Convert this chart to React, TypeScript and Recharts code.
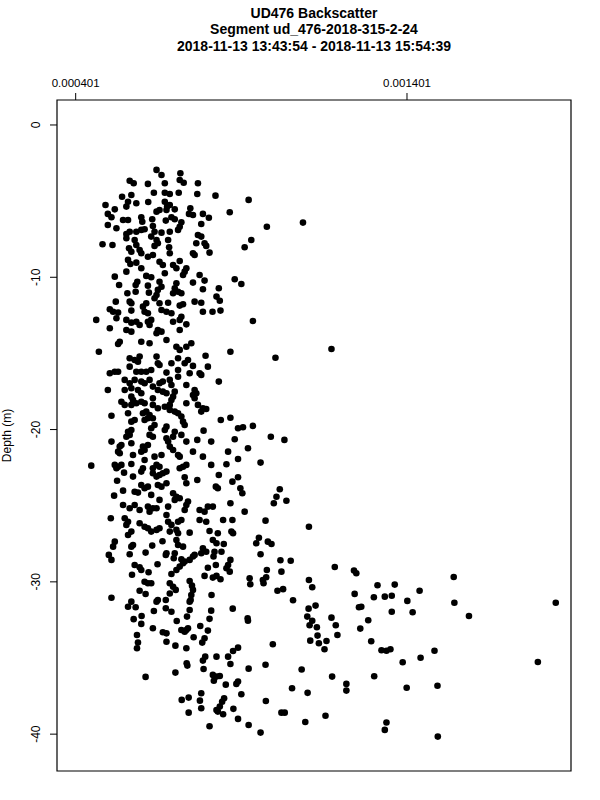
import React from 'react';
import { ScatterChart, Scatter, XAxis, YAxis, ReferenceArea } from 'recharts';

// backscatter in units of 1e-6, depth in metres
const xTicks = [401, 1401];
const yTicks = [0, -10, -20, -30, -40];
const xDomain: [number, number] = [344.6, 1896];
const yDomain: [number, number] = [-42.42, 1.64];

const titleLines = [
  'UD476 Backscatter',
  'Segment ud_476-2018-315-2-24',
  '2018-11-13 13:43:54 - 2018-11-13 15:54:39',
];

const upperBand: [number, number][] = [
  [645,-2.95],[660,-3.28],[717,-3.17],[715,-3.61],[727,-3.79],[564,-3.66],[576,-3.83],[619,-3.87],[670,-3.83],[770,-3.83],
  [637,-4.45],[670,-4.45],[685,-4.53],[712,-4.45],[768,-4.53],[823,-4.64],[923,-4.92],[541,-4.71],[569,-4.60],[559,-5.04],
  [554,-5.36],[584,-5.14],[620,-5.06],[491,-5.25],[519,-5.54],[670,-5.04],[677,-5.36],[685,-5.25],[645,-5.69],[654,-5.58],
  [675,-5.58],[700,-5.54],[747,-5.47],[743,-5.84],[755,-5.91],[785,-5.84],[803,-6.09],[866,-5.73],[498,-5.84],[509,-6.06],
  [544,-6.24],[559,-6.24],[599,-6.06],[602,-6.35],[632,-6.19],[673,-6.28],[690,-6.06],[700,-6.19],[720,-6.39],[715,-6.68],
  [780,-6.50],[1087,-6.41],[978,-6.68],[498,-6.57],[524,-6.78],[554,-7.16],[564,-7.01],[584,-7.01],[599,-6.89],[609,-6.85],
  [634,-6.63],[639,-7.01],[629,-7.33],[660,-7.07],[685,-7.01],[710,-6.89],[770,-7.22],[780,-7.33],[931,-7.55],[911,-8.03],
  [482,-7.83],[512,-7.88],[554,-7.44],[579,-7.55],[584,-7.88],[594,-8.21],[645,-7.55],[639,-7.94],[649,-7.77],[680,-7.55],
  [683,-8.03],[685,-8.42],[765,-7.77],[790,-7.77],[795,-7.94],[562,-8.10],[569,-8.32],[599,-8.42],[755,-8.42],[760,-8.54],
  [805,-8.38],[619,-8.65],[634,-8.54],[654,-8.98],[664,-9.19],[559,-8.86],[566,-9.13],[584,-9.04],[599,-9.41],[715,-8.93],
  [695,-9.19],[705,-9.41],[730,-9.63],[725,-9.85],[735,-9.41],[554,-9.63],[614,-9.91],[629,-10.00],[670,-9.74],[775,-9.85],
  [790,-10.22],[881,-10.13],[901,-10.44],[519,-9.96],[532,-10.51],[587,-10.29],[582,-10.51],[619,-10.55],[654,-10.29],[660,-10.62],
  [649,-10.83],[645,-11.16],[639,-11.38],[705,-10.39],[700,-10.72],[710,-10.95],[695,-11.05],[720,-11.05],[755,-10.35],[785,-10.79],
  [833,-10.72],[557,-11.05],[582,-10.95],[622,-11.01],[826,-11.27],[836,-11.54],[522,-11.60],[564,-11.60],[569,-11.71],[614,-11.71],
  [604,-11.93],[609,-12.26],[654,-11.71],[680,-11.67],[715,-11.86],[725,-11.77],[760,-11.60],[780,-11.67],[504,-12.10],[514,-12.26],
  [529,-12.32],[569,-12.19],[619,-12.36],[660,-12.15],[675,-12.26],[690,-12.36],[720,-12.59],[715,-12.80],[785,-12.26],[814,-12.26],
  [838,-12.19],[463,-12.80],[504,-13.35],[524,-12.69],[554,-12.80],[569,-12.98],[584,-12.92],[594,-13.13],[554,-13.46],[569,-13.57],
  [619,-12.92],[629,-12.80],[624,-13.13],[649,-13.46],[660,-13.57],[645,-13.68],[695,-12.92],[735,-13.09],[715,-13.46],[936,-12.87],
  [1173,-14.71],
];

const middleBand: [number, number][] = [
  [529,-14.38],[534,-14.23],[471,-14.89],[599,-14.23],[624,-14.33],[675,-14.12],[705,-14.56],[715,-14.77],[735,-14.56],[750,-14.33],
  [868,-14.89],[1004,-15.28],[793,-15.15],[564,-15.32],[579,-15.43],[594,-15.21],[589,-15.54],[645,-15.21],[649,-15.65],[654,-15.76],
  [690,-15.65],[710,-15.32],[730,-15.65],[740,-15.43],[755,-15.82],[800,-15.87],[564,-15.87],[504,-16.30],[519,-16.20],[529,-16.20],
  [584,-16.20],[599,-16.20],[614,-16.20],[629,-16.09],[675,-16.26],[710,-16.53],[710,-16.09],[745,-16.30],[775,-16.30],[780,-16.41],
  [549,-16.74],[564,-16.96],[579,-16.74],[599,-16.85],[609,-16.96],[624,-16.74],[654,-16.96],[664,-16.85],[685,-16.74],[690,-17.07],
  [833,-16.85],[735,-17.07],[498,-17.40],[549,-17.40],[569,-17.29],[589,-17.40],[599,-17.62],[634,-17.18],[649,-17.40],[664,-17.51],
  [675,-17.62],[700,-17.51],[695,-17.84],[690,-18.06],[760,-17.40],[755,-17.73],[765,-17.62],[760,-17.94],[569,-17.84],[574,-18.06],
  [634,-17.94],[539,-18.17],[549,-18.38],[569,-18.38],[584,-18.27],[599,-18.17],[609,-18.27],[634,-18.38],[649,-18.60],[670,-18.50],
  [685,-18.38],[735,-18.27],[770,-18.38],[785,-18.60],[780,-18.82],[795,-18.65],[509,-19.09],[559,-18.93],[604,-18.93],[614,-18.82],
  [624,-19.04],[634,-19.26],[609,-19.37],[619,-19.26],[685,-18.71],[700,-18.82],[710,-18.93],[720,-19.15],[725,-19.48],[730,-19.70],
  [839,-19.37],[868,-19.22],[569,-19.48],[579,-19.37],[639,-19.70],[629,-19.91],[634,-20.47],[624,-20.35],[675,-19.81],[670,-20.03],
  [700,-20.14],[695,-20.47],[720,-20.35],[891,-19.91],[906,-19.85],[936,-19.76],[787,-20.07],[559,-20.14],[569,-20.03],[554,-20.47],
  [564,-20.35],[990,-20.47],[1031,-20.68],[509,-20.79],[534,-21.12],[539,-21.01],[569,-20.90],[604,-21.12],[619,-21.01],[609,-21.34],
  [599,-21.45],[675,-20.57],[680,-20.79],[685,-21.12],[695,-21.34],[710,-21.67],[715,-21.78],[735,-20.79],[768,-20.68],[810,-20.79],
  [881,-20.64],[921,-21.23],[529,-21.45],[534,-21.56],[574,-21.67],[639,-21.78],[660,-21.67],[755,-21.45],[785,-21.78],[861,-21.45],
  [891,-21.93],[959,-22.17],[448,-22.37],[519,-22.32],[529,-22.44],[539,-22.32],[524,-22.54],[569,-22.26],[609,-22.00],[604,-22.54],
  [645,-22.32],[634,-22.54],[654,-22.44],[715,-22.54],[725,-22.44],[735,-22.32],[810,-22.32],[856,-22.28],[547,-22.83],[574,-23.09],
  [599,-22.76],[634,-22.87],[645,-23.09],[654,-22.98],[664,-22.87],[675,-22.76],[730,-23.13],[768,-23.31],[833,-22.98],[891,-23.13],
  [874,-23.42],[526,-23.36],[599,-23.64],[609,-23.85],[619,-23.75],[649,-23.64],[660,-23.75],[675,-23.53],[735,-23.53],[824,-23.75],
  [830,-23.85],[898,-23.85],[904,-24.18],[1017,-23.92],[1007,-24.41],[999,-24.84],[1037,-24.67],[517,-24.34],[544,-24.01],[579,-24.08],
  [589,-24.14],[629,-24.29],[654,-24.62],[695,-24.18],[705,-24.41],[715,-24.51],[700,-24.62],[544,-24.95],[564,-25.17],[579,-24.95],
  [594,-25.28],[619,-25.06],[624,-25.39],[634,-25.17],[645,-25.17],[680,-25.06],[740,-24.73],[735,-24.95],[730,-25.28],[775,-25.28],
  [790,-25.39],[800,-25.06],[815,-25.06],[868,-24.84],[911,-25.39],[507,-25.82],[549,-25.82],[559,-26.05],[554,-26.26],[594,-26.15],
  [609,-26.38],[675,-25.61],[680,-26.05],[690,-26.26],[710,-26.05],[720,-25.94],[775,-25.94],[795,-26.05],[846,-25.94],[874,-25.94],
  [974,-25.98],[1105,-26.38],[559,-26.92],[569,-26.70],[619,-26.48],[629,-26.70],[645,-26.59],[654,-26.48],[685,-26.70],[705,-26.59],
  [710,-26.81],[745,-26.77],[805,-26.66],[830,-26.81],[871,-26.70],[876,-26.81],[954,-27.10],
];

const lowerBand: [number, number][] = [
  [519,-27.36],[514,-27.69],[574,-27.58],[569,-27.69],[632,-27.62],[663,-27.33],[705,-27.25],[710,-27.58],[725,-27.69],[815,-27.25],
  [826,-27.47],[848,-27.51],[946,-27.47],[981,-27.36],[992,-27.51],[501,-28.23],[509,-28.56],[564,-28.19],[612,-28.08],[675,-28.12],
  [673,-28.23],[700,-28.12],[697,-28.45],[785,-27.79],[780,-28.12],[795,-28.02],[820,-28.02],[841,-28.02],[817,-28.34],[959,-28.19],
  [720,-28.52],[730,-28.67],[745,-28.56],[755,-28.34],[760,-28.23],[868,-28.56],[861,-28.89],[1019,-28.58],[1050,-28.61],[579,-28.89],
  [594,-29.04],[599,-29.22],[648,-28.84],[705,-29.22],[715,-29.00],[725,-28.78],[800,-29.07],[824,-28.89],[856,-29.11],[866,-29.33],
  [978,-29.22],[1022,-29.33],[571,-29.53],[621,-29.37],[690,-29.48],[790,-29.61],[815,-29.72],[826,-29.61],[838,-29.83],[745,-29.94],
  [609,-29.99],[619,-30.09],[629,-30.09],[685,-30.09],[695,-30.32],[703,-30.53],[926,-29.76],[928,-30.16],[966,-29.88],[968,-30.09],
  [976,-29.70],[752,-30.25],[755,-30.53],[750,-30.86],[748,-31.19],[745,-31.30],[594,-30.58],[612,-30.80],[685,-30.76],[811,-30.86],
  [1010,-30.58],[1027,-30.48],[509,-31.04],[559,-31.63],[569,-31.30],[582,-31.67],[645,-31.30],[649,-31.19],[673,-31.19],[673,-31.73],
  [690,-31.96],[637,-31.91],[745,-31.85],[810,-31.89],[875,-31.76],[920,-32.39],[921,-32.55],[576,-32.45],[600,-32.24],[599,-32.76],
  [706,-32.57],[737,-32.28],[805,-32.43],[634,-33.05],[664,-33.31],[675,-33.38],[720,-33.16],[730,-33.27],[735,-33.16],[740,-33.05],
  [777,-32.90],[800,-33.20],[586,-33.49],[589,-33.99],[586,-34.36],[675,-33.93],[702,-34.19],[757,-33.64],[790,-33.70],[783,-33.99],
  [735,-34.36],[996,-34.10],[891,-34.32],[876,-34.54],[861,-34.91],[792,-34.91],[785,-35.17],[787,-35.72],[826,-34.91],[868,-35.39],
  [736,-35.35],[738,-35.50],[923,-35.70],[974,-35.44],[612,-36.24],[702,-35.96],[815,-36.11],[826,-36.22],[836,-36.18],[818,-36.49],
  [854,-36.75],[886,-36.70],[891,-36.55],[901,-37.38],[780,-37.31],[721,-37.75],[742,-37.60],[776,-37.80],[780,-38.30],[849,-37.64],
  [843,-37.87],[836,-38.19],[830,-38.52],[826,-38.41],[846,-38.69],[877,-38.34],[975,-37.82],[1022,-38.59],[1032,-38.59],[742,-38.59],
  [891,-39.00],[923,-39.40],[805,-39.48],[959,-39.90],
];

const outerScatter: [number, number][] = [
  [1183,-29.02],[1241,-29.26],[1248,-29.44],[1542,-29.68],[1105,-29.88],[1115,-30.35],[1312,-30.22],[1364,-30.18],[1439,-30.58],[1057,-31.21],
  [1243,-30.79],[1301,-31.01],[1334,-30.97],[1355,-30.91],[1402,-31.25],[1544,-31.37],[1850,-31.37],[1104,-31.76],[1125,-31.56],[1256,-31.67],
  [1263,-31.63],[1355,-31.96],[1418,-32.00],[1588,-32.24],[1100,-32.28],[1115,-32.55],[1173,-32.35],[1284,-32.52],[1107,-32.85],[1129,-32.98],
  [1186,-32.85],[1260,-33.07],[1131,-33.53],[1191,-33.49],[1109,-33.86],[1135,-34.03],[1158,-33.88],[1152,-34.43],[1293,-33.90],[1324,-34.49],
  [1339,-34.52],[1351,-34.43],[1484,-34.52],[1442,-34.98],[1388,-35.28],[1796,-35.26],[1083,-35.76],[1175,-36.22],[1302,-36.20],[1218,-36.70],
  [1218,-37.14],[1054,-36.99],[1101,-37.29],[1400,-36.95],[1493,-36.82],[1155,-38.79],[1094,-39.20],[1339,-39.24],[1334,-39.72],[1494,-40.16],
];

const points = [...upperBand, ...middleBand, ...lowerBand, ...outerScatter].map(([bs, depth]) => ({ bs, depth }));

const FONT = '"Liberation Sans", Arial, Helvetica, sans-serif';

const Dot = (props: any) => {
  const { cx, cy } = props;
  if (cx == null || cy == null) return <g />;
  return <circle cx={cx} cy={cy} r={3.3} fill="#000" />;
};

const XTick = (props: any) => {
  const { x, y, payload } = props;
  return (
    <text x={x} y={y} textAnchor="middle" fontFamily={FONT} fontSize={11.5} fill="#000">
      {(payload.value / 1e6).toFixed(6)}
    </text>
  );
};

const YTick = (props: any) => {
  const { x, y, payload } = props;
  return (
    <text
      x={x}
      y={y}
      transform={`rotate(-90, ${x}, ${y})`}
      textAnchor="middle"
      fontFamily={FONT}
      fontSize={12}
      fill="#000"
    >
      {payload.value}
    </text>
  );
};

export default function App() {
  return (
    <div style={{ position: 'absolute', left: 0, top: 0, width: 600, height: 800, background: '#fff' }}>
      <ScatterChart width={600} height={800} margin={{ top: 66, right: 29, bottom: 29, left: 20 }}>
        <XAxis
          type="number"
          dataKey="bs"
          orientation="top"
          height={34}
          domain={xDomain}
          ticks={xTicks}
          allowDataOverflow
          axisLine={false}
          tickSize={7}
          tickMargin={6}
          tickLine={{ stroke: '#000' }}
          tick={<XTick />}
        />
        <YAxis
          type="number"
          dataKey="depth"
          width={37}
          domain={yDomain}
          ticks={yTicks}
          allowDataOverflow
          axisLine={false}
          tickSize={7}
          tickMargin={10}
          tickLine={{ stroke: '#000' }}
          tick={<YTick />}
        />
        <ReferenceArea
          x1={xDomain[0]}
          x2={xDomain[1]}
          y1={yDomain[0]}
          y2={yDomain[1]}
          fill="none"
          stroke="#000"
          strokeWidth={1.2}
          ifOverflow="visible"
        />
        <Scatter data={points} shape={<Dot />} isAnimationActive={false} />
      </ScatterChart>
      <svg width={600} height={800} style={{ position: 'absolute', left: 0, top: 0, pointerEvents: 'none' }}>
        {titleLines.map((t, i) => (
          <text
            key={t}
            x={314}
            y={17.5 + i * 16.7}
            textAnchor="middle"
            fontFamily={FONT}
            fontWeight="bold"
            fontSize={14}
            fill="#000"
          >
            {t}
          </text>
        ))}
        <text
          x={11}
          y={435.5}
          transform="rotate(-90, 11, 435.5)"
          textAnchor="middle"
          fontFamily={FONT}
          fontSize={12}
          fill="#000"
        >
          Depth (m)
        </text>
      </svg>
    </div>
  );
}
